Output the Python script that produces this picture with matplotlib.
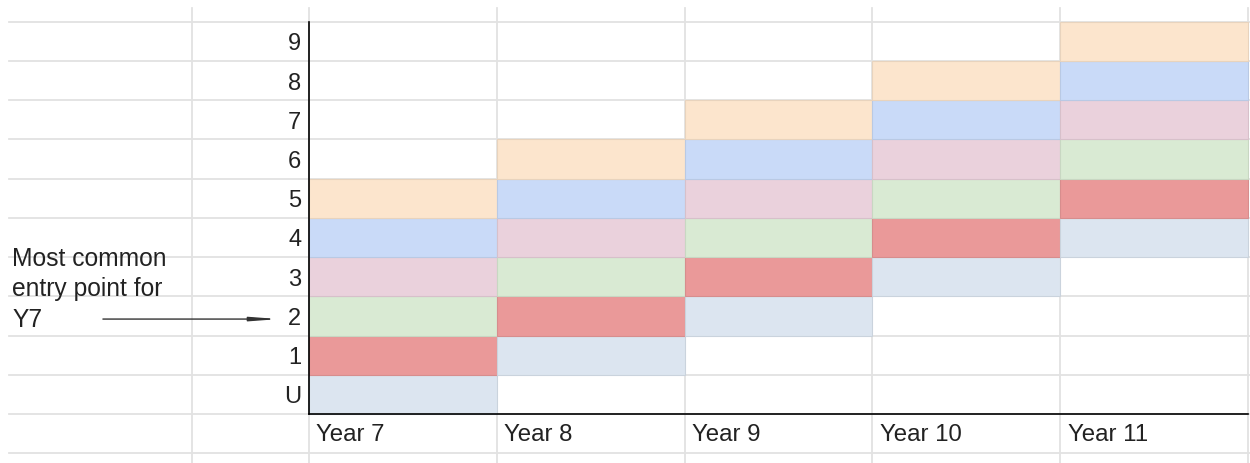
import matplotlib.pyplot as plt
from matplotlib.colors import to_rgb

# grades (rows, bottom to top) and years (columns)
grades = ["U", "1", "2", "3", "4", "5", "6", "7", "8", "9"]
years = ["Year 7", "Year 8", "Year 9", "Year 10", "Year 11"]
# lowest grade band covered in each year; each band spans six grades
lowest = ["U", "1", "2", "3", "4"]
band_colors = ["#DCE5F0", "#EA9999", "#D9EAD3", "#EAD1DC", "#C9DAF8", "#FCE5CD"]
note = ["Most common", "entry point for", "Y7"]

plt.rcParams["font.family"] = ["Liberation Sans", "DejaVu Sans"]

fig = plt.figure(figsize=(12.5, 4.64), dpi=100)
ax = fig.add_axes([0, 0, 1, 1])
ax.set_xlim(-1.645, 5.011)
ax.set_ylim(-1.249, 10.579)
ax.axis("off")

grid_c = "#E2E2E2"
# spreadsheet grid
for r in range(-1, len(grades) + 1):
    ax.plot([-1.597, 5.011], [r, r], color=grid_c, lw=1.3, zorder=0)
for c in [-0.623] + list(range(len(years) + 1)):
    ax.plot([c, c], [-1.249, 10.35], color=grid_c, lw=1.3, zorder=0)


def darker(col, f=0.92):
    return tuple(v * f for v in to_rgb(col))


# coloured bands
for j, yr in enumerate(years):
    start = grades.index(lowest[j])
    for k, col in enumerate(band_colors):
        ax.bar(j, 1, bottom=start + k, width=1, align="edge",
               color=col, edgecolor=darker(col), lw=0.8, zorder=2)

# axis lines
ax.plot([0, 0], [0, len(grades)], color="black", lw=1.2, zorder=4)
ax.plot([0, len(years)], [0, 0], color="black", lw=1.2, zorder=4)

# labels
for i, g in enumerate(grades):
    ax.text(-0.04, i + 0.45, g, ha="right", va="center", fontsize=17,
            color="#222222")
for j, yr in enumerate(years):
    ax.text(j + 0.04, -0.5, yr, ha="left", va="center", fontsize=17.3,
            color="#222222")

for i, line in enumerate(note):
    ax.text(-1.581, 3.98 - i * 0.78, line, ha="left", va="center",
            fontsize=17.7, color="#222222")

ax.annotate("", xy=(-0.16, 2.42), xytext=(-1.097, 2.42),
            arrowprops=dict(arrowstyle="-|>,head_length=1.6,head_width=0.12",
                            color="#333333", lw=1.0, shrinkA=0, shrinkB=0))

fig.savefig("out.png", dpi=100)
